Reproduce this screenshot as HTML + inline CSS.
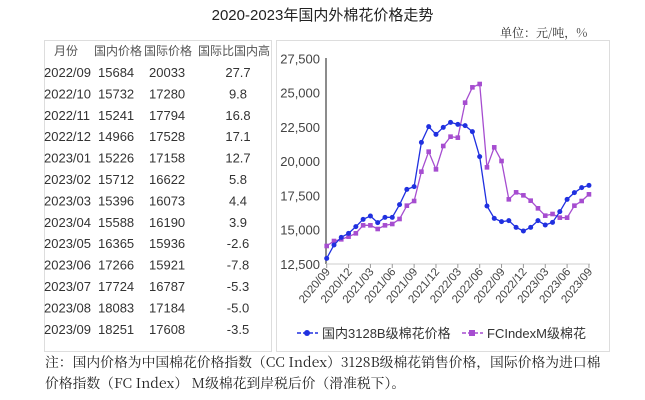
<!DOCTYPE html><html><head><meta charset="utf-8"><style>
body{margin:0;background:#fff;width:645px;height:400px;overflow:hidden;font-family:"Liberation Sans","Noto Sans CJK SC",sans-serif;color:#333}
.t{position:absolute;white-space:nowrap}
</style></head><body>
<div class="t" style="left:0;width:645px;top:4px;text-align:center;font-size:15px;color:#222">2020-2023年国内外棉花价格走势</div>
<div class="t" style="left:500px;top:24px;font-size:12px;font-family:'Noto Serif CJK SC',serif;color:#333">单位：元/吨，%</div>
<div style="position:absolute;left:44px;top:40px;width:226px;height:310px;border:1px solid #ddd"></div>
<div style="position:absolute;left:276px;top:40px;width:332px;height:310px;border:1px solid #ddd"></div>
<svg width="645" height="400" style="position:absolute;left:0;top:0" id="s" font-family="Liberation Sans, Noto Sans CJK SC, sans-serif"></svg>
<div class="t" style="left:45px;top:351px;font-size:13.8px;font-family:'Noto Serif CJK SC',serif;color:#222;line-height:21px">注：国内价格为中国棉花价格指数（CC Index）3128B级棉花销售价格，国际价格为进口棉<br>价格指数（FC Index） M级棉花到岸税后价（滑准税下）。</div>
<script>
const s=document.getElementById('s');let h='';
const rows=[["2022/09",15684,20033,"27.7"],["2022/10",15732,17280,"9.8"],["2022/11",15241,17794,"16.8"],["2022/12",14966,17528,"17.1"],["2023/01",15226,17158,"12.7"],["2023/02",15712,16622,"5.8"],["2023/03",15396,16073,"4.4"],["2023/04",15588,16190,"3.9"],["2023/05",16365,15936,"-2.6"],["2023/06",17266,15921,"-7.8"],["2023/07",17724,16787,"-5.3"],["2023/08",18083,17184,"-5.0"],["2023/09",18251,17608,"-3.5"]];
h+=`<g font-size="12" fill="#555"><text x="66" y="55" text-anchor="middle">月份</text><text x="118" y="55" text-anchor="middle">国内价格</text><text x="168" y="55" text-anchor="middle">国际价格</text><text x="234" y="55" text-anchor="middle">国际比国内高</text></g>`;
rows.forEach((r,i)=>{const y=77+i*21.4;h+=`<g font-size="13" fill="#333"><text x="44" y="${y}">${r[0]}</text><text x="98" y="${y}">${r[1]}</text><text x="149" y="${y}">${r[2]}</text><text x="238" y="${y}" text-anchor="middle">${r[3]}</text></g>`});
const X=i=>326.7+i*7.285,Y=v=>264-(v-12500)/15000*205.7;
h+=`<line x1="326" y1="58" x2="326" y2="264" stroke="#666" stroke-width="1.5"/><line x1="326" y1="264" x2="590" y2="264" stroke="#ccc"/>`;
[12500,15000,17500,20000,22500,25000,27500].forEach(v=>{h+=`<text x="320" y="${Y(v)+5}" font-size="13" fill="#444" text-anchor="end">${v.toLocaleString('en-US')}</text>`});
const lb=["2020/09","2020/12","2021/03","2021/06","2021/09","2021/12","2022/03","2022/06","2022/09","2022/12","2023/03","2023/06","2023/09"];
lb.forEach((l,k)=>{const x=X(k*3);h+=`<line x1="${x}" y1="264" x2="${x}" y2="268" stroke="#999"/><text transform="translate(${x+4},272) rotate(-50)" font-size="11.5" fill="#444" text-anchor="end">${l}</text>`});
const b=[655,615,592,580,560,538,528,548,532,532,494,448,440,307,260,283,262,247,253,257,275,350,498,535,545,542,562,573,562,542,555,547,515,478,458,443,436];
const p=[618,603,598,590,580,556,556,567,556,552,537,497,483,395,335,388,318,290,293,188,142,132,382,322,363,478,457,466,482,505,527,522,533,533,497,483,463];
const pt=a=>a.map((y,i)=>[X(i),40+y/3]);
function ser(a,c,sq){const P=pt(a);h+=`<polyline points="${P.map(q=>q.join(',')).join(' ')}" fill="none" stroke="${c}" stroke-width="1.3"/>`;P.forEach(q=>{h+=sq?`<rect x="${q[0]-2.3}" y="${q[1]-2.3}" width="4.6" height="4.6" fill="${c}"/>`:`<circle cx="${q[0]}" cy="${q[1]}" r="2.5" fill="${c}"/>`})}
ser(p,"#a64dd0",1);ser(b,"#2030e0",0);
h+=`<line x1="297" y1="333" x2="318" y2="333" stroke="#2030e0" stroke-width="1.5" stroke-dasharray="4,2"/><circle cx="307" cy="333" r="3" fill="#2030e0"/><text x="322" y="338" font-size="13" fill="#333">国内3128B级棉花价格</text>`;
h+=`<line x1="462" y1="333" x2="483" y2="333" stroke="#a64dd0" stroke-width="1.5" stroke-dasharray="4,2"/><rect x="469" y="330" width="6" height="6" fill="#a64dd0"/><text x="487" y="338" font-size="13" fill="#333">FCIndexM级棉花</text>`;
s.innerHTML=h;
</script></body></html>
